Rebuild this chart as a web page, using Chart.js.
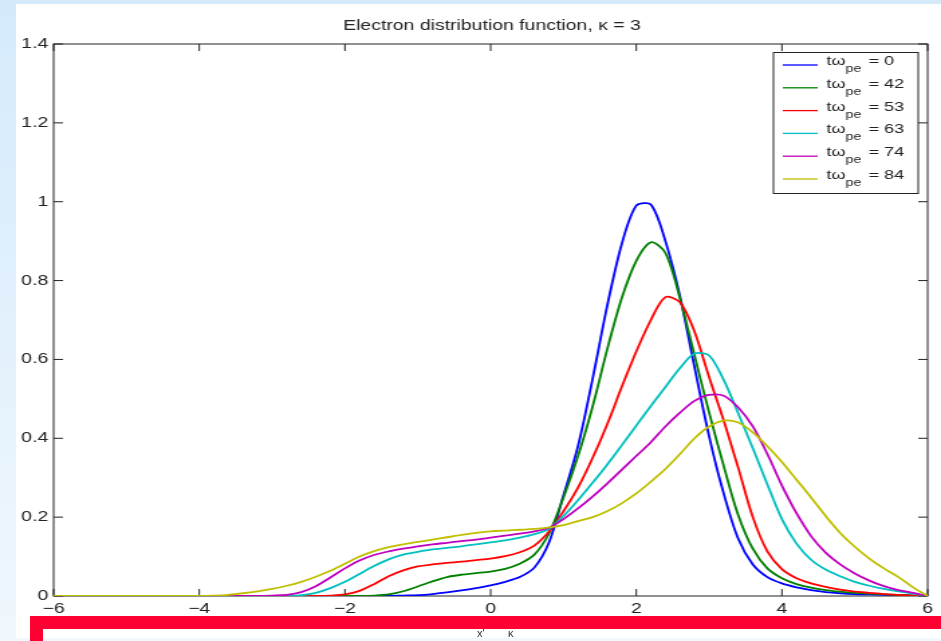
<!DOCTYPE html>
<html>
<head>
<meta charset="utf-8">
<title>Electron distribution function</title>
<script src="https://cdn.jsdelivr.net/npm/chart.js@4.4.1/dist/chart.umd.min.js"></script>
<style>
  html, body { margin: 0; padding: 0; }
  body {
    width: 941px; height: 641px; overflow: hidden; position: relative;
    background: linear-gradient(#d4eafb, #f0f7fd);
    font-family: "Liberation Sans", Arial, sans-serif;
  }
  #panel { position: absolute; left: 16px; top: 4px; right: 0; bottom: 3px; background: #fff; }
  /* the figure is drawn narrow and stretched sideways, like the exported image */
  #wrap { position: absolute; left: 0; top: 0; width: 702px; height: 641px; transform: scaleX(1.34046); transform-origin: 0 0; }
  .bar { position: absolute; background: #ff0033; }
  .xlabel { position: absolute; top: 627px; font-size: 11px; line-height: 12px; color: #333; white-space: pre; }
</style>
</head>
<body>
<div id="panel"></div>
<div id="wrap"><canvas id="myChart"></canvas></div>
<div class="bar" style="left:30px; top:616px; width:911px; height:13px;"></div>
<div class="bar" style="left:30px; top:616px; width:13px; height:25px;"></div>
<div class="xlabel" style="left:477px;">x'</div>
<div class="xlabel" style="left:508px;">κ</div>

<script>
// velocity grid (x / kappa), the first point only anchors the flat part of the axis
const xs = [-6,
  -4.0, -3.8, -3.6, -3.4, -3.2, -3.0, -2.8, -2.6, -2.4, -2.2,
  -2.0, -1.8, -1.6, -1.4, -1.2, -1.0, -0.8, -0.6, -0.4, -0.2,
   0.0,  0.2,  0.4,  0.6,  0.8,  1.0,  1.2,  1.4,  1.6,  1.8,
   2.0,  2.2,  2.4,  2.6,  2.8,  3.0,  3.2,  3.4,  3.6,  3.8,
   4.0,  4.2,  4.4,  4.6,  4.8,  5.0,  5.2,  5.4,  5.6,  5.8, 6.0];

const times = [0, 42, 53, 63, 74, 84];
const colors = ['#0000ff', '#008000', '#ff0000', '#00bfbf', '#bf00bf', '#bfbf00'];

const f0 = [0,
  0, 0, 0, 0, 0, 0, 0, 0, 0, 0,
  0, 0, 0, 0, 0.001, 0.002, 0.005, 0.009, 0.014, 0.02,
  0.027, 0.036, 0.048, 0.072, 0.135, 0.255, 0.38, 0.55, 0.735, 0.892,
  0.99, 0.993, 0.9, 0.76, 0.58, 0.405, 0.26, 0.145, 0.08, 0.048,
  0.032, 0.022, 0.015, 0.01, 0.007, 0.005, 0.004, 0.003, 0.002, 0.001, 0];

const f42 = [0,
  0, 0, 0, 0, 0, 0, 0, 0, 0, 0,
  0, 0, 0.001, 0.004, 0.012, 0.024, 0.037, 0.048, 0.054, 0.058,
  0.062, 0.069, 0.082, 0.105, 0.158, 0.25, 0.355, 0.48, 0.625, 0.755,
  0.85, 0.897, 0.87, 0.755, 0.61, 0.465, 0.33, 0.205, 0.12, 0.07,
  0.045, 0.03, 0.021, 0.015, 0.011, 0.008, 0.006, 0.004, 0.003, 0.001, 0];

const f53 = [0,
  0, 0, 0, 0, 0, 0, 0, 0, 0, 0.001,
  0.004, 0.013, 0.03, 0.05, 0.065, 0.075, 0.08, 0.084, 0.087, 0.091,
  0.095, 0.101, 0.111, 0.128, 0.163, 0.215, 0.275, 0.35, 0.435, 0.53,
  0.62, 0.7, 0.758, 0.745, 0.67, 0.555, 0.445, 0.325, 0.2, 0.113,
  0.068, 0.045, 0.032, 0.023, 0.016, 0.011, 0.008, 0.005, 0.003, 0.001, 0];

const f63 = [0,
  0, 0, 0, 0, 0, 0, 0, 0.002, 0.008, 0.02,
  0.036, 0.056, 0.076, 0.093, 0.105, 0.112, 0.118, 0.122, 0.126, 0.131,
  0.136, 0.141, 0.148, 0.157, 0.17, 0.203, 0.243, 0.287, 0.333, 0.382,
  0.432, 0.482, 0.53, 0.578, 0.615, 0.61, 0.548, 0.463, 0.375, 0.283,
  0.195, 0.133, 0.092, 0.067, 0.05, 0.036, 0.026, 0.018, 0.012, 0.006, 0];

const f74 = [0,
  0, 0, 0, 0, 0, 0.001, 0.003, 0.01, 0.025, 0.047,
  0.07, 0.09, 0.104, 0.113, 0.12, 0.126, 0.131, 0.135, 0.139, 0.143,
  0.148, 0.153, 0.158, 0.164, 0.173, 0.195, 0.222, 0.252, 0.285, 0.32,
  0.355, 0.39, 0.43, 0.465, 0.495, 0.51, 0.508, 0.478, 0.43, 0.36,
  0.28, 0.21, 0.152, 0.11, 0.08, 0.057, 0.039, 0.025, 0.015, 0.008, 0];

const f84 = [0,
  0, 0.001, 0.003, 0.007, 0.012, 0.018, 0.026, 0.036, 0.049, 0.064,
  0.082, 0.1, 0.114, 0.124, 0.131, 0.137, 0.143, 0.149, 0.155, 0.16,
  0.164, 0.166, 0.168, 0.17, 0.174, 0.18, 0.19, 0.2, 0.215, 0.235,
  0.26, 0.29, 0.322, 0.36, 0.4, 0.43, 0.445, 0.44, 0.415, 0.38,
  0.34, 0.295, 0.25, 0.203, 0.16, 0.125, 0.095, 0.07, 0.048, 0.022, 0];

const series = [f0, f42, f53, f63, f74, f84];

const xTicks = [-6, -4, -2, 0, 2, 4, 6];
const yTicks = [0, 0.2, 0.4, 0.6, 0.8, 1, 1.2, 1.4];

const FONT = '"Liberation Sans", Arial, Helvetica, sans-serif';
const INK = '#222';

// MATLAB style box: full frame with ticks pointing inwards on every side
const frame = {
  id: 'frame',
  beforeDatasetsDraw(c) {
    const { ctx, chartArea: a, scales: { x, y } } = c;
    const t = 7;
    ctx.save();
    ctx.strokeStyle = INK;
    ctx.lineWidth = 1;
    ctx.beginPath();
    xTicks.forEach(v => {
      const px = x.getPixelForValue(v);
      ctx.moveTo(px, a.bottom); ctx.lineTo(px, a.bottom - t);
      ctx.moveTo(px, a.top); ctx.lineTo(px, a.top + t);
    });
    yTicks.forEach(v => {
      const py = y.getPixelForValue(v);
      ctx.moveTo(a.left, py); ctx.lineTo(a.left + t, py);
      ctx.moveTo(a.right, py); ctx.lineTo(a.right - t, py);
    });
    ctx.stroke();
    ctx.strokeRect(a.left, a.top, a.right - a.left, a.bottom - a.top);
    ctx.restore();
  }
};

// title and the legend with subscripted labels
const annotations = {
  id: 'annotations',
  afterDraw(c) {
    const ctx = c.ctx;
    ctx.save();
    ctx.fillStyle = INK;
    ctx.font = '14.5px ' + FONT;
    ctx.textAlign = 'center';
    ctx.textBaseline = 'alphabetic';
    ctx.fillText('Electron distribution function, κ = 3', 367, 30);

    const left = 577, top = 52, w = 108, h = 141;
    ctx.fillStyle = '#fff';
    ctx.fillRect(left, top, w, h);
    ctx.strokeStyle = INK;
    ctx.lineWidth = 1;
    ctx.strokeRect(left, top + 0.5, w, h);

    ctx.textAlign = 'left';
    times.forEach((tv, i) => {
      const yl = 65 + i * 22.8;
      ctx.strokeStyle = colors[i];
      ctx.lineWidth = 1.3;
      ctx.beginPath();
      ctx.moveTo(584, yl);
      ctx.lineTo(610, yl);
      ctx.stroke();

      ctx.fillStyle = INK;
      ctx.font = '13.5px ' + FONT;
      ctx.fillText('tω', 616.5, yl);
      let xx = 616.5 + ctx.measureText('tω').width;
      ctx.font = '10.5px ' + FONT;
      ctx.fillText('pe', xx, yl + 7);
      xx += ctx.measureText('pe').width + 5.5;
      ctx.font = '13.5px ' + FONT;
      ctx.fillText('= ' + tv, xx, yl);
    });
    ctx.restore();
  }
};

const datasets = series.map((vals, i) => ({
  label: 'tω_pe = ' + times[i],
  data: xs.map((x, k) => ({ x: x, y: vals[k] })),
  borderColor: colors[i],
  borderWidth: 1.8,
  pointRadius: 0,
  tension: 0.3,
  fill: false,
  order: series.length - 1 - i
}));

const myChart = document.getElementById('myChart').getContext('2d');

let chart = new Chart(myChart, {
  type: 'line',
  data: { datasets: datasets },
  options: {
    responsive: true,
    maintainAspectRatio: false,
    animation: false,
    events: [],
    layout: { padding: { top: 44, right: 10, left: 0, bottom: 0 } },
    plugins: {
      legend: { display: false },
      title: { display: false },
      tooltip: { enabled: false }
    },
    scales: {
      x: {
        type: 'linear',
        min: -6,
        max: 6,
        grid: { display: false, drawTicks: false },
        border: { display: false },
        afterFit: (s) => { s.height = 45; },
        afterBuildTicks: (s) => { s.ticks = xTicks.map(v => ({ value: v })); },
        ticks: {
          autoSkip: false,
          maxRotation: 0,
          padding: 4,
          color: INK,
          font: { family: FONT, size: 14.5 },
          callback: (v) => (v < 0 ? '\u2212' + Math.abs(v) : String(v))
        }
      },
      y: {
        min: 0,
        max: 1.4,
        grid: { display: false, drawTicks: false },
        border: { display: false },
        afterFit: (s) => { s.width = 40; },
        afterBuildTicks: (s) => { s.ticks = yTicks.map(v => ({ value: v })); },
        ticks: {
          autoSkip: false,
          padding: 4,
          color: INK,
          font: { family: FONT, size: 14.5 },
          callback: (v) => String(Number(v.toFixed(1)))
        }
      }
    }
  },
  plugins: [frame, annotations]
});
</script>
</body>
</html>
